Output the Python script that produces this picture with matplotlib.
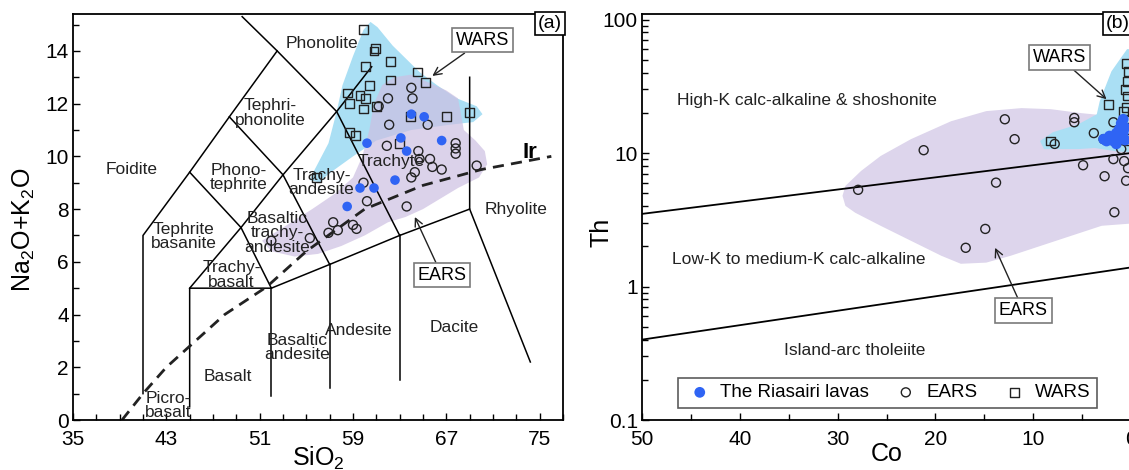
import matplotlib
matplotlib.use('Agg')
import matplotlib.pyplot as plt
from matplotlib.patches import Polygon
from matplotlib.ticker import MultipleLocator

plt.rcParams['font.family'] = ['Liberation Sans', 'DejaVu Sans']
plt.rcParams['mathtext.fontset'] = 'custom'
plt.rcParams['mathtext.rm'] = 'Liberation Sans'
plt.rcParams['mathtext.it'] = 'Liberation Sans:italic'

# ---------------- panel (a): TAS diagram ----------------
tas_lines = [
    [(41, 1.0), (41, 7.0), (45, 9.4), (48.4, 11.5), (52.5, 14.0), (49.5, 15.3)],
    [(45, 0.5), (45, 5.0), (52, 5.0), (57, 5.9), (63, 7.0), (69, 8.0), (69, 13.0)],
    [(52, 0.9), (52, 5.0)],
    [(57, 1.2), (57, 5.9)],
    [(63, 1.5), (63, 7.0)],
    [(69, 8.0), (74.2, 2.2)],
    [(45, 5.0), (49.4, 7.3), (52, 5.0)],
    [(45, 9.4), (49.4, 7.3), (53, 9.3), (57.6, 11.7), (60.6, 13.4)],
    [(48.4, 11.5), (53, 9.3), (57, 5.9)],
    [(52.5, 14.0), (57.6, 11.7), (63, 7.0)],
]

ir_sio2 = [39.2, 41.0, 43.0, 45.0, 48.0, 51.6, 55.0, 60.0, 65.0, 70.0, 76.0]
ir_alk = [0.0, 1.0, 2.0, 2.8, 4.0, 5.05, 6.4, 8.0, 8.9, 9.5, 10.0]

rock_names = ['Foidite', 'Phonolite', 'Tephri-\nphonolite', 'Phono-\ntephrite',
              'Tephrite\nbasanite', 'Trachy-\nbasalt', 'Basaltic\ntrachy-\nandesite',
              'Trachy-\nandesite', 'Trachyte', 'Rhyolite', 'Dacite', 'Andesite',
              'Basaltic\nandesite', 'Basalt', 'Picro-\nbasalt']
name_x = [40.0, 56.3, 51.9, 49.2, 44.5, 48.6, 52.5, 56.3, 62.3, 73.0, 67.7, 59.5,
          54.2, 48.3, 43.2]
name_y = [9.5, 14.3, 11.65, 9.2, 6.95, 5.5, 7.1, 9.0, 9.8, 8.0, 3.5, 3.4,
          2.75, 1.65, 0.55]

si_major = [35, 43, 51, 59, 67, 75]

wars_a_sio2 = [60.5, 61.1, 62.4, 64.7, 66.2, 67.9, 69.6, 70.1, 69.3, 67.3, 64.0,
               61.0, 59.0, 56.8, 56.2, 55.3, 55.6, 56.9, 57.6, 58.1, 59.0, 59.9]
wars_a_alk = [15.1, 14.9, 14.2, 13.2, 12.7, 12.2, 11.9, 11.6, 11.3, 11.2, 11.0,
              10.6, 10.0, 9.3, 9.0, 9.1, 9.4, 10.5, 11.7, 12.7, 13.8, 14.8]

ears_a_sio2 = [51.2, 53.0, 55.5, 57.5, 59.0, 59.8, 60.4, 60.8, 61.5, 62.5, 64.0,
               65.5, 67.0, 68.0, 68.3, 68.5, 69.5, 70.3, 70.5, 69.8, 68.0, 66.5,
               65.0, 63.5, 62.0, 60.0, 58.0, 56.0, 54.0, 52.0]
ears_a_alk = [6.8, 7.3, 8.0, 8.6, 9.2, 10.0, 11.0, 12.0, 12.7, 13.0, 13.1,
              12.8, 12.5, 12.2, 11.5, 11.0, 10.6, 10.2, 9.7, 9.2, 8.8, 8.4,
              8.0, 7.7, 7.5, 7.0, 6.6, 6.3, 6.2, 6.4]

riasairi_sio2 = [64.0, 65.1, 60.2, 63.1, 63.6, 66.6, 62.6, 59.6, 60.8, 58.5]
riasairi_alk = [11.6, 11.5, 10.5, 10.7, 10.2, 10.6, 9.1, 8.8, 8.8, 8.1]

ears_sio2 = [64.0, 64.1, 62.0, 61.2, 65.4, 62.1, 61.9, 64.6, 64.7, 65.6, 64.3,
             65.8, 66.6, 64.0, 67.8, 67.8, 67.8, 69.6, 59.9, 60.2, 63.6, 57.3,
             56.9, 57.7, 59.0, 59.3, 55.3, 52.0]
ears_alk = [12.6, 12.2, 12.2, 11.9, 11.2, 11.2, 10.4, 10.2, 9.9, 9.9, 9.4,
            9.6, 9.5, 9.2, 10.5, 10.3, 10.1, 9.65, 9.0, 8.3, 8.1, 7.5,
            7.1, 7.2, 7.4, 7.25, 6.9, 6.8]

wars_sio2 = [59.9, 60.8, 60.9, 62.2, 60.1, 64.5, 65.2, 62.2, 60.4, 58.5, 59.6,
             60.1, 58.7, 59.9, 61.0, 63.9, 67.0, 69.0, 58.7, 59.2, 63.0, 55.9]
wars_alk = [14.8, 14.0, 14.1, 13.6, 13.4, 13.2, 12.8, 12.9, 12.7, 12.4, 12.3,
            12.2, 12.0, 11.8, 11.9, 11.5, 11.5, 11.65, 10.9, 10.8, 10.5, 9.2]

# ---------------- panel (b): Th vs Co ----------------
upper_co, upper_th = [50, 0], [3.5, 10.0]
lower_co, lower_th = [50, 0], [0.40, 1.39]

ears_b_co = [29.5, 29.2, 27.6, 25.6, 22.5, 18.4, 14.8, 11.2, 8.2, 5.1, 2.0, -1.0,
             -1.0, 3.0, 6.1, 9.2, 12.3, 14.8, 17.4, 19.4, 22.5, 25.6, 28.2, 29.2]
ears_b_th = [4.78, 5.67, 7.34, 9.5, 12.7, 17.3, 20.6, 21.7, 21.3, 19.9, 18.9, 18.9,
             3.0, 2.85, 2.4, 2.02, 1.70, 1.51, 1.48, 1.70, 2.2, 2.85, 3.57, 4.02]

wars_b_co = [9.3, 8.0, 5.4, 3.5, 3.2, 2.0, 1.0, 0.4, -1.0, -1.0, 1.5, 3.7, 5.4, 8.9]
wars_b_th = [12.3, 14.3, 16.4, 19.5, 24.4, 40.9, 52.0, 60.0, 60.0, 10.0, 10.3,
             10.9, 10.7, 10.7]

riasairi_co = [2.8, 2.5, 2.2, 1.8, 1.5, 1.2, 1.0, 0.8, 1.2, 0.8, 1.5, 2.0, 0.6, 0.6]
riasairi_th = [12.7, 12.3, 13.4, 12.3, 14.1, 15.1, 16.7, 17.9, 12.7, 14.1, 11.7,
               13.0, 15.5, 12.5]

ears_co = [27.9, 21.2, 12.9, 11.9, 13.8, 14.9, 16.9, 5.8, 5.8, 3.8, 7.8, 4.9,
           1.8, 2.7, 1.7, 0.7, 1.0, 2.8, 1.8, 0.3, 0.5]
ears_th = [5.3, 10.5, 17.9, 12.7, 6.0, 2.7, 1.95, 18.3, 17.0, 14.1, 11.7, 8.1,
           9.0, 6.7, 3.6, 8.7, 10.7, 12.7, 17.0, 7.7, 6.2]

wars_co = [2.3, 8.2, 0.8, 0.5, 0.3, 0.4, 0.6, 0.4, 0.5, 0.3, 0.5, 0.3]
wars_th = [23.2, 12.3, 20.6, 47.0, 41.0, 34.4, 30.0, 26.7, 22.0, 18.0, 15.0, 12.3]

field_names_b = ['High-K calc-alkaline & shoshonite', 'Low-K to medium-K calc-alkaline',
                 'Island-arc tholeiite']
field_co = [46.4, 46.9, 35.5]
field_th = [24.9, 1.59, 0.333]

blue = '#2f64f4'
wars_fill = '#aadff4'
ears_fill = '#cdbfe2'
tick_fs = 15
label_fs = 18
name_fs = 12.5

fig = plt.figure(figsize=(11.29, 4.70), dpi=100)
ax1 = fig.add_axes([73 / 1129, 50 / 470, 490 / 1129, 406 / 470])
ax2 = fig.add_axes([642 / 1129, 50 / 470, 489 / 1129, 406 / 470])


def style_axes(ax):
    for s in ax.spines.values():
        s.set_linewidth(1.3)
    ax.tick_params(which='both', direction='in', top=False, right=False,
                   labelsize=tick_fs, width=1.0)
    ax.tick_params(axis='x', which='both', pad=7)
    ax.tick_params(axis='y', which='both', pad=3)
    ax.tick_params(which='major', length=5)
    ax.tick_params(which='minor', length=4)


def box_note(ax, text, box_xy, tip_xy):
    ax.annotate(text, xy=tip_xy, xytext=box_xy, ha='center', va='center',
                fontsize=13,
                bbox=dict(boxstyle='square,pad=0.2', fc='white', ec='#7a7a7a', lw=1.2),
                arrowprops=dict(arrowstyle='->', color='#222222', lw=1.0,
                                shrinkA=0, shrinkB=0, mutation_scale=14),
                zorder=6)


# ---- panel (a)
ax1.add_patch(Polygon(list(zip(wars_a_sio2, wars_a_alk)), closed=True,
                      fc=wars_fill, ec='none', zorder=1))
ax1.add_patch(Polygon(list(zip(ears_a_sio2, ears_a_alk)), closed=True,
                      fc=ears_fill, ec='none', alpha=0.7, zorder=1.5))
for seg in tas_lines:
    xs, ys = zip(*seg)
    ax1.plot(xs, ys, color='black', lw=1.1, zorder=2)
ax1.plot(ir_sio2, ir_alk, color='#222222', lw=2.0, ls=(0, (4, 2.6)), zorder=2.5)
ax1.text(74.2, 10.15, 'Ir', fontsize=16, fontweight='bold', ha='center', va='center')
for nm, x, y in zip(rock_names, name_x, name_y):
    ax1.text(x, y, nm, fontsize=name_fs, ha='center', va='center',
             linespacing=0.95, color='#222222', zorder=3)

ax1.scatter(ears_sio2, ears_alk, s=42, marker='o', facecolors='none',
            edgecolors='#222222', linewidths=1.0, zorder=4)
ax1.scatter(wars_sio2, wars_alk, s=40, marker='s', facecolors='none',
            edgecolors='#222222', linewidths=1.0, zorder=4)
ax1.scatter(riasairi_sio2, riasairi_alk, s=48, marker='o', color=blue,
            edgecolors='none', zorder=5)

box_note(ax1, 'WARS', (70.1, 14.4), (65.8, 13.05))
box_note(ax1, 'EARS', (66.6, 5.5), (64.3, 7.7))
ax1.text(0.998, 0.997, '(a)', transform=ax1.transAxes, ha='right', va='top',
         fontsize=14, bbox=dict(boxstyle='square,pad=0.15', fc='white', ec='black', lw=1.2),
         zorder=7)

ax1.set_xlim(35, 77)
ax1.set_ylim(0, 15.4)
ax1.set_xticks(si_major)
ax1.set_xticks(range(35, 78, 2), minor=True)
ax1.yaxis.set_major_locator(MultipleLocator(2))
ax1.yaxis.set_minor_locator(MultipleLocator(1))
style_axes(ax1)
ax1.set_xlabel(r'SiO$_{\mathregular{2}}$', fontsize=label_fs, labelpad=-3)
ax1.set_ylabel(r'Na$_{\mathregular{2}}$O+K$_{\mathregular{2}}$O', fontsize=label_fs)
ax1.yaxis.set_label_coords(-0.074, 0.468)

# ---- panel (b)
ax2.add_patch(Polygon(list(zip(ears_b_co, ears_b_th)), closed=True,
                      fc='#ddd5ec', ec='none', zorder=1))
ax2.add_patch(Polygon(list(zip(wars_b_co, wars_b_th)), closed=True,
                      fc=wars_fill, ec='none', zorder=1.5))
ax2.plot(upper_co, upper_th, color='black', lw=1.3, zorder=2)
ax2.plot(lower_co, lower_th, color='black', lw=1.3, zorder=2)
for nm, x, y in zip(field_names_b, field_co, field_th):
    ax2.text(x, y, nm, fontsize=name_fs, ha='left', va='center', color='#222222')

ax2.scatter(ears_co, ears_th, s=42, marker='o', facecolors='none',
            edgecolors='#222222', linewidths=1.0, zorder=4, label='EARS')
ax2.scatter(wars_co, wars_th, s=40, marker='s', facecolors='none',
            edgecolors='#222222', linewidths=1.0, zorder=4, label='WARS')
ax2.scatter(riasairi_co, riasairi_th, s=60, marker='o', color=blue,
            edgecolors='none', zorder=5, label='The Riasairi lavas')

box_note(ax2, 'WARS', (7.3, 52.0), (2.5, 25.3))
box_note(ax2, 'EARS', (11.0, 0.66), (13.9, 1.95))
ax2.text(0.997, 0.997, '(b)', transform=ax2.transAxes, ha='right', va='top',
         fontsize=14, bbox=dict(boxstyle='square,pad=0.15', fc='white', ec='black', lw=1.2),
         zorder=7)

ax2.set_yscale('log')
ax2.set_xlim(50, 0)
ax2.set_ylim(0.1, 110)
ax2.set_xticks([50, 40, 30, 20, 10, 0])
ax2.xaxis.set_minor_locator(MultipleLocator(5))
ax2.set_yticks([0.1, 1, 10, 100])
ax2.set_yticklabels(['0.1', '1', '10', '100'])
style_axes(ax2)
ax2.set_xlabel('Co', fontsize=label_fs, labelpad=-5)
ax2.set_ylabel('Th', fontsize=label_fs)
ax2.yaxis.set_label_coords(-0.059, 0.463)

handles, labels = ax2.get_legend_handles_labels()
order = [2, 0, 1]
leg = ax2.legend([handles[i] for i in order], [labels[i] for i in order],
                 loc='lower left', bbox_to_anchor=(0.074, 0.03), ncol=3,
                 fontsize=13.5, frameon=True, fancybox=False, handletextpad=0.3,
                 columnspacing=1.15, handlelength=1.6, borderpad=0.35,
                 borderaxespad=0)
leg.get_frame().set_edgecolor('#333333')
leg.get_frame().set_linewidth(1.2)

fig.savefig('out.png', dpi=100)
